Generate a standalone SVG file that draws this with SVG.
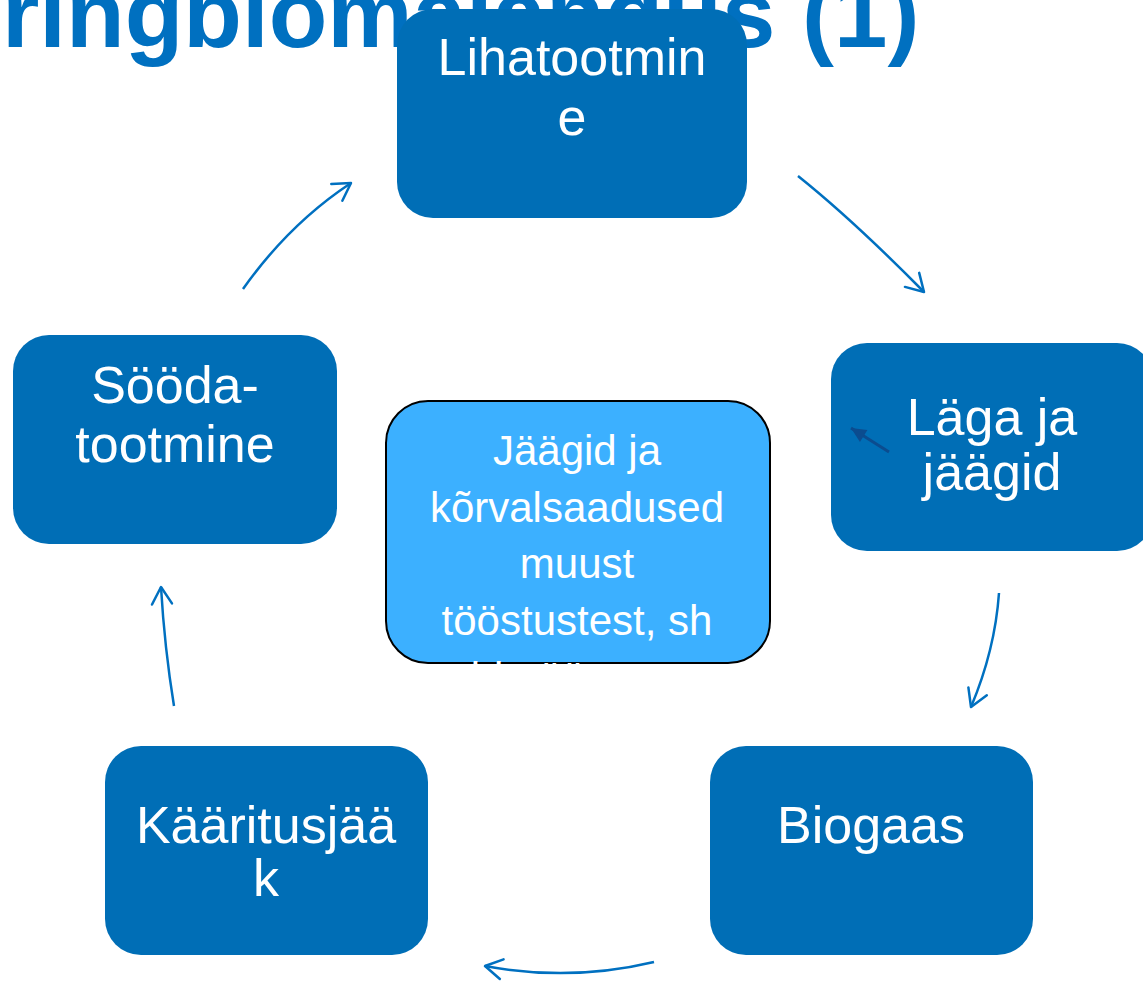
<svg xmlns="http://www.w3.org/2000/svg" width="1143" height="981" viewBox="0 0 1143 981">
<style>
.title{font-family:"Liberation Sans",Arial,sans-serif;font-weight:bold;font-size:96px;fill:#0070C0}
.box{fill:#006EB6}
.lbl{font-family:"Liberation Sans",Arial,sans-serif;font-size:52px;fill:#fff;text-anchor:middle}
.clbl{font-family:"Liberation Sans",Arial,sans-serif;font-size:42px;fill:#fff;text-anchor:middle}
.conn{fill:none;stroke:#0070C0;stroke-width:2.5;marker-end:url(#ch)}
</style>
<defs>
<marker id="ch" viewBox="-22 -13 26 26" refX="0" refY="0" markerWidth="26" markerHeight="26" markerUnits="userSpaceOnUse" orient="auto">
<path d="M-17,-10 L0,0 L-17,10" fill="none" stroke="#0070C0" stroke-width="2.5" stroke-linecap="round" stroke-linejoin="round"/>
</marker>
<marker id="tri" viewBox="-16 -8 18 16" refX="0" refY="0" markerWidth="18" markerHeight="16" markerUnits="userSpaceOnUse" orient="auto">
<path d="M-15,-7 L0,0 L-15,7 Z" fill="#0B4C8F"/>
</marker>
</defs>
<rect width="1143" height="981" fill="#fff"/>
<text class="title" x="2" y="47">ringbiomajandus (1)</text>
<g id="connectors">
<path class="conn" d="M798,176 Q853,220 924,292"/>
<path class="conn" d="M999,593 Q995,650 971,707"/>
<path class="conn" d="M654,962 Q570,982 485,966"/>
<path class="conn" d="M174,706 Q164.5,647.5 161,587"/>
<path class="conn" d="M243,289 Q289,224 351,183"/>
</g>
<g id="lihatootmine">
<rect class="box" x="397" y="9" width="350" height="209" rx="36"/>
<text class="lbl" x="572" y="75">Lihatootmin</text>
<text class="lbl" x="572" y="135">e</text>
</g>
<g id="laga">
<rect class="box" x="831" y="343" width="322" height="208" rx="36"/>
<text class="lbl" x="992" y="435">Läga ja</text>
<text class="lbl" x="992" y="490">jäägid</text>
<path d="M889,452 L851,428" stroke="#0B4C8F" stroke-width="3" fill="none" marker-end="url(#tri)"/>
</g>
<g id="biogaas">
<rect class="box" x="710" y="746" width="323" height="209" rx="36"/>
<text class="lbl" x="871" y="843">Biogaas</text>
</g>
<g id="kaaritusjaak">
<rect class="box" x="105" y="746" width="323" height="209" rx="36"/>
<text class="lbl" x="266" y="843">Kääritusjää</text>
<text class="lbl" x="266" y="896">k</text>
</g>
<g id="soodatootmine">
<rect class="box" x="13" y="335" width="324" height="209" rx="36"/>
<text class="lbl" x="175" y="403">Sööda-</text>
<text class="lbl" x="175" y="462">tootmine</text>
</g>
<g id="jaagid">
<rect x="386" y="401" width="384" height="262" rx="42" fill="#3CB0FF" stroke="#000" stroke-width="2"/>
<text class="clbl" x="577" y="465">Jäägid ja</text>
<text class="clbl" x="577" y="522">kõrvalsaadused</text>
<text class="clbl" x="577" y="578">muust</text>
<text class="clbl" x="577" y="635">tööstustest, sh</text>
<text class="clbl" x="577" y="692">toidutööstusest</text>
</g>
</svg>
